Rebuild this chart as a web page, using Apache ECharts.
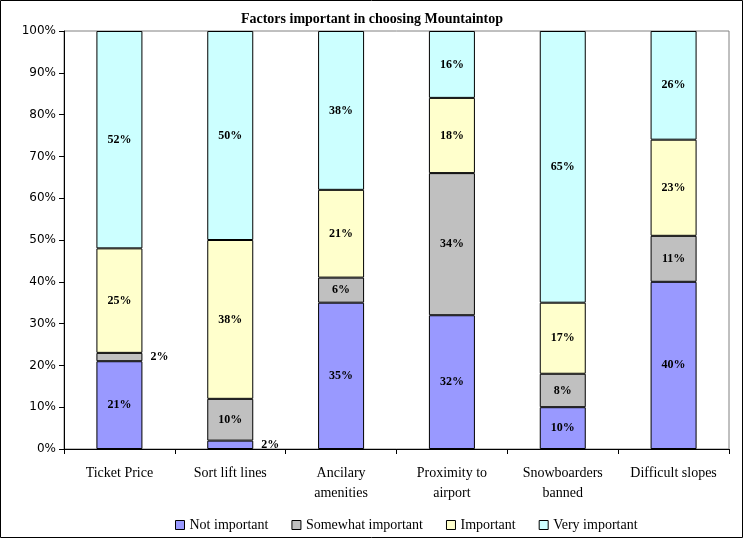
<!DOCTYPE html>
<html><head><meta charset="utf-8">
<script src="https://cdn.jsdelivr.net/npm/echarts@6/dist/echarts.min.js"></script>
<style>html,body{margin:0;padding:0;background:#fff}#c{width:744px;height:539px}</style>
</head><body><div id="c"></div>
<script>
const categories = ['Ticket Price','Sort lift lines','Ancilary\namenities','Proximity to\nairport','Snowboarders\nbanned','Difficult slopes'];
const seriesNames = ['Not important','Somewhat important','Important','Very important'];
const notImportant = [21, 2, 35, 32, 10, 40];
const somewhatImportant = [2, 10, 6, 34, 8, 11];
const important = [25, 38, 21, 18, 17, 23];
const veryImportant = [52, 50, 38, 16, 65, 26];
const yTicks = [0,10,20,30,40,50,60,70,80,90,100];
const colors = ['#9999FF','#C0C0C0','#FFFFCC','#CCFFFF'];
const values = [notImportant, somewhatImportant, important, veryImportant];

const chart = echarts.init(document.getElementById('c'), null, {renderer:'canvas'});
const serif = '"Liberation Serif", "Times New Roman", serif';
const series = values.map((arr, i) => ({
  name: seriesNames[i],
  type: 'bar',
  stack: 'total',
  barWidth: 46,
  itemStyle: {color: colors[i], borderColor: '#000', borderWidth: 1},
  label: {
    show: true, position: 'inside', formatter: '{c}%',
    fontFamily: serif, fontWeight: 'bold', fontSize: 12, color: '#000'
  },
  data: arr.map(v => v < 5 ? {value: v, label: {position: 'right', distance: 8}} : v)
}));

chart.setOption({
  animation: false,
  title: {
    text: 'Factors important in choosing Mountaintop', left: 'center', top: 7,
    textStyle: {fontFamily: serif, fontWeight: 'bold', fontSize: 14, color: '#000'}
  },
  legend: {
    bottom: 2, left: 170, itemWidth: 9, itemHeight: 9, itemGap: 23,
    icon: 'rect',
    textStyle: {fontFamily: serif, fontSize: 14, color: '#000'},
    itemStyle: {borderColor: '#000', borderWidth: 1},
    data: seriesNames
  },
  grid: {left: 64, right: 15, top: 31, bottom: 90, show: true, borderColor: '#808080', borderWidth: 1},
  xAxis: {
    type: 'category', data: categories,
    axisLine: {lineStyle: {color: '#000'}},
    axisTick: {show: true, length: 5, alignWithLabel: false, lineStyle: {color: '#000'}},
    axisLabel: {fontFamily: serif, fontSize: 14, color: '#000', margin: 14, lineHeight: 20, interval: 0}
  },
  yAxis: {
    type: 'value', min: yTicks[0], max: yTicks[yTicks.length-1], interval: 10,
    axisLine: {show: true, lineStyle: {color: '#000'}},
    axisTick: {show: true, length: 5, lineStyle: {color: '#000'}},
    splitLine: {show: false},
    axisLabel: {formatter: '{value}%', fontFamily: '"DejaVu Sans", sans-serif', fontSize: 12, color: '#000', margin: 8}
  },
  graphic: [{type: 'rect', shape: {x: 0.5, y: 0.5, width: 742, height: 537}, style: {fill: 'none', stroke: '#000', lineWidth: 1}, silent: true}],
  series: series
});
</script></body></html>
